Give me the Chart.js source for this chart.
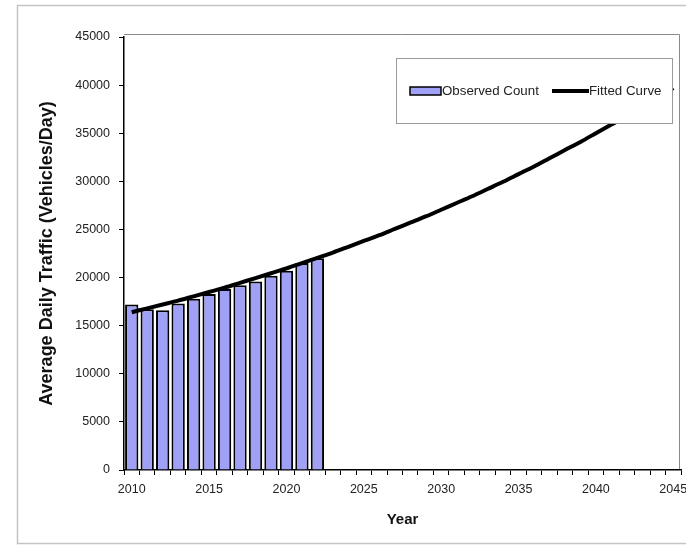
<!DOCTYPE html>
<html lang="en">
  <head>
    <meta charset="UTF-8" />
    <title>Average Daily Traffic</title>
    <script src="https://cdn.jsdelivr.net/npm/chart.js"></script>
    <style>
      html,
      body {
        margin: 0;
        padding: 0;
        background: #fff;
        overflow: hidden;
      }
      #wrap {
        width: 686px;
        height: 546px;
      }
    </style>
  </head>
  <body>
    <div id="wrap">
      <canvas id="grafico"></canvas>
    </div>

    <script>
      // dados
      const anos = [
        2010, 2011, 2012, 2013, 2014, 2015, 2016, 2017, 2018, 2019, 2020, 2021,
        2022, 2023, 2024, 2025, 2026, 2027, 2028, 2029, 2030, 2031, 2032, 2033,
        2034, 2035, 2036, 2037, 2038, 2039, 2040, 2041, 2042, 2043, 2044, 2045
      ]

      // contagem observada (2010 - 2022)
      const contagem = [
        17200, 16700, 16600, 17300, 17800, 18300, 18800, 19200, 19600, 20200,
        20700, 21500, 22000
      ]

      // curva ajustada
      const curva = [
        16400, 16800, 17200, 17600, 18050, 18500, 18950, 19450, 19950, 20450,
        20950, 21500, 22050, 22600, 23200, 23800, 24400, 25050, 25700, 26350,
        27050, 27750, 28450, 29200, 29950, 30750, 31550, 32400, 33250, 34100,
        35000, 35900, 36800, 37750, 38700, 39700
      ]

      const ticksY = [0, 5000, 10000, 15000, 20000, 25000, 30000, 35000, 40000, 45000]

      const corBarra = '#a0a0f6'
      const fonte = "'Liberation Sans', Arial, sans-serif"

      // moldura externa + borda da área do gráfico + legenda
      const molduraPlugin = {
        id: 'moldura',
        beforeDraw(chart) {
          const ctx = chart.ctx
          const a = chart.chartArea
          ctx.save()
          ctx.strokeStyle = '#c4c4c4'
          ctx.lineWidth = 1.5
          ctx.strokeRect(17.5, 5.5, 800, 538)
          ctx.strokeStyle = '#8a8a8a'
          ctx.lineWidth = 1
          ctx.beginPath()
          ctx.moveTo(a.left, a.top - 2.5)
          ctx.lineTo(a.right - 1.5, a.top - 2.5)
          ctx.lineTo(a.right - 1.5, a.bottom)
          ctx.stroke()
          ctx.restore()
        },
        afterDraw(chart) {
          const ctx = chart.ctx
          ctx.save()
          // caixa da legenda
          ctx.fillStyle = '#fff'
          ctx.fillRect(396, 58, 276, 65)
          ctx.strokeStyle = '#9a9a9a'
          ctx.lineWidth = 1
          ctx.strokeRect(396.5, 58.5, 276, 65)

          // amostra das barras
          ctx.fillStyle = corBarra
          ctx.fillRect(410, 87, 31, 8)
          ctx.strokeStyle = '#000'
          ctx.lineWidth = 1.5
          ctx.strokeRect(410, 87, 31, 8)

          ctx.fillStyle = '#222'
          ctx.font = '13.3px ' + fonte
          ctx.textBaseline = 'middle'
          ctx.fillText('Observed Count', 442, 91)

          // amostra da linha
          ctx.strokeStyle = '#000'
          ctx.lineWidth = 4
          ctx.beginPath()
          ctx.moveTo(552, 91)
          ctx.lineTo(589, 91)
          ctx.stroke()
          ctx.fillText('Fitted Curve', 589, 91)
          ctx.restore()
        }
      }

      const config = {
        data: {
          labels: anos,
          datasets: [
            {
              type: 'line',
              label: 'Fitted Curve',
              data: curva,
              borderColor: '#000',
              borderWidth: 4,
              pointRadius: 0,
              cubicInterpolationMode: 'monotone',
              fill: false,
              order: 0
            },
            {
              type: 'bar',
              label: 'Observed Count',
              data: contagem,
              backgroundColor: corBarra,
              borderColor: '#000',
              borderWidth: 2,
              barPercentage: 0.86,
              categoryPercentage: 1.0,
              order: 1
            }
          ]
        },
        options: {
          responsive: true,
          maintainAspectRatio: false,
          animation: false,
          layout: {
            padding: { left: 32, right: 5, top: 37, bottom: 14 }
          },
          plugins: {
            legend: { display: false },
            tooltip: { enabled: false }
          },
          scales: {
            x: {
              type: 'category',
              offset: true,
              grid: {
                display: true,
                drawOnChartArea: false,
                drawTicks: true,
                tickLength: 5,
                color: '#000',
                offset: true
              },
              border: { display: true, color: '#000', width: 1.5 },
              ticks: {
                autoSkip: false,
                maxRotation: 0,
                padding: 7,
                color: '#222',
                font: { family: fonte, size: 12.5 },
                callback: function (valor, i) {
                  return anos[i] % 5 === 0 ? String(anos[i]) : ''
                }
              },
              title: {
                display: true,
                text: 'Year',
                color: '#111',
                font: { family: fonte, size: 15, weight: 'bold' },
                padding: { top: 4, bottom: 3 }
              },
              afterFit: function (eixo) {
                eixo.height = 62
                eixo.paddingLeft = 0
                eixo.paddingRight = 0
              }
            },
            y: {
              min: 0,
              max: 45000,
              afterBuildTicks: function (eixo) {
                eixo.ticks = ticksY.map((v) => ({ value: v }))
              },
              grid: {
                display: true,
                drawOnChartArea: false,
                drawTicks: true,
                tickLength: 5,
                color: '#000'
              },
              border: { display: true, color: '#000', width: 1.5 },
              ticks: {
                padding: 9,
                color: '#222',
                font: { family: fonte, size: 12.5 },
                callback: function (valor) {
                  return String(valor)
                }
              },
              title: {
                display: true,
                text: 'Average Daily Traffic (Vehicles/Day)',
                color: '#111',
                font: { family: fonte, size: 18, weight: 'bold' },
                padding: { top: 4, bottom: 0 }
              },
              afterFit: function (eixo) {
                eixo.width = 92
              }
            }
          }
        },
        plugins: [molduraPlugin]
      }

      new Chart(document.getElementById('grafico'), config)
    </script>
  </body>
</html>
